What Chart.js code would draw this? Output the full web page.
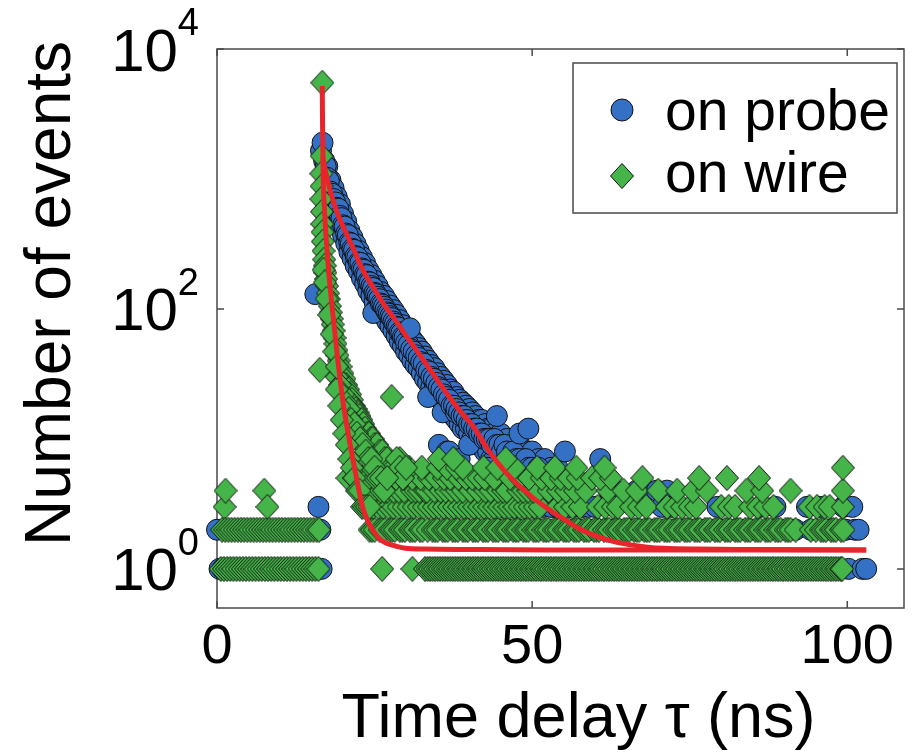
<!DOCTYPE html>
<html><head><meta charset="utf-8">
<script src="https://cdn.jsdelivr.net/npm/chart.js@4.4.1/dist/chart.umd.min.js"></script>
<style>html,body{margin:0;padding:0;background:#fff;}canvas{display:block;}</style>
</head><body>
<canvas id="c" width="917" height="752"></canvas>
<script>
// ---------- text / ticks ----------
const xTicks = [0, 50, 100];
const yTicks = [1, 100, 10000];
const yTickBase = '10';
const yTickExponents = ['0', '2', '4'];
const seriesLabels = ['on probe', 'on wire'];
const xTitle = 'Time delay \u03c4 (ns)';
const yTitle = 'Number of events';

// ---------- "on probe" (blue circles): [time ns, events] ----------
const probeBase = [[0,2],[0.4,1],[0.9,1],[1.3,2],[1.8,1],[2.3,1],[2.7,2],[3.2,1],[3.7,1],[4.1,2],[4.6,1],[5.1,1],[5.5,2],[6.0,1],[6.5,1],[6.9,2],[7.4,1],[7.9,1],[8.3,2],[8.8,1],[9.3,1],[9.7,2],[10.2,1],[10.7,1],[11.1,2],[11.6,1],[12.1,1],[12.5,2],[13.0,1],[13.5,1],[13.9,2],[14.4,1],[14.9,1],[15.3,2],[15.8,1],[15.6,130],[16.1,3],[16.4,2],[16.6,1]];
const probeDecay = [[16.5,1650],[16.75,1900],[17.0,1380],[17.25,1250],[17.5,1020],[17.75,960],[18.0,800],[18.25,770],[18.5,700],[18.75,660],[19.0,600],[19.25,590],[19.5,520],[19.75,500],[20.0,440],[20.25,430],[20.5,380],[20.75,370],[21.0,325],[21.25,320],[21.5,290],[21.75,285],[22.0,255],[22.25,250],[22.5,228],[22.75,226],[23.0,205],[23.25,200],[23.5,185],[23.75,182],[24.0,162],[24.25,160],[24.5,150],[24.75,145],[24.8,93],[25.0,133],[25.25,130],[25.5,124],[25.75,119],[26.0,110],[26.25,108],[26.5,104],[26.75,99],[27.0,94],[27.25,92],[27.5,88],[27.75,85],[28.0,80],[28.25,77],[28.5,73],[28.75,72],[29.0,66],[29.25,65],[29.5,61],[29.75,60],[30.0,55],[30.4,53],[30.6,71],[30.8,49],[31.2,47],[31.6,44],[32.0,42],[32.4,39],[32.8,38],[33.2,34],[33.5,21],[33.6,33],[34.0,30],[34.4,29],[34.8,27],[35.2,25],[35.2,9],[35.6,24],[35.8,16],[36.0,22],[36.4,21],[36.5,8],[36.8,20],[36.8,8],[37.2,18],[37.6,18],[37.9,16],[38.0,17],[38.4,16],[38.5,7],[38.8,15],[39.2,15],[39.6,14],[40.0,13],[40.0,9],[40.4,13],[40.8,12],[41.2,12],[41.6,11],[42.0,11],[42.0,5],[42.4,10],[42.8,10],[43.0,6],[43.2,10],[43.6,9],[44.0,10],[44.0,4],[44.4,15],[44.4,9],[44.8,9],[45.2,8],[45.6,9],[46.0,8],[46.5,7],[47.0,8],[47.5,7],[48.0,11],[48.0,7],[48.5,6],[49.0,7],[49.4,12],[49.5,6],[50.0,6],[50.5,5],[51.0,6],[51.5,5],[52.0,5],[52.5,4],[53.0,5],[53.5,4],[54.0,4],[55.0,4],[55.2,8],[56.0,3],[57.0,4],[58.0,3],[59.0,3],[60.0,3],[60.8,7],[62.2,4],[63.2,4]];
const probeBandUpper = [[17.5,1250],[18.0,980],[18.5,850],[19.0,730],[19.5,640],[20.0,540],[20.5,470],[21.0,400],[21.5,355],[22.0,315],[22.5,280],[23.0,250],[23.5,225],[24.0,200],[24.5,182],[25.0,165],[25.5,150],[26.0,135],[26.5,126],[27.0,115],[27.5,106],[28.0,98],[28.5,90],[29.0,82],[29.5,75],[30.0,68],[30.5,64],[31.0,58],[31.5,54],[32.0,50],[32.5,47],[33.0,43],[33.5,40],[34.0,37],[34.5,35],[35.0,32],[35.5,30],[36.0,28],[36.5,26],[37.0,24],[37.5,23],[38.0,21],[38.5,20],[39.0,19],[39.5,18],[40.0,17],[40.5,16],[41.0,15],[41.5,14],[42.0,14],[42.5,13],[43.0,12],[43.5,12],[44.0,11],[45.0,11],[46.0,10],[47.0,9],[48.0,9],[49.0,8],[50.0,8],[51.0,7],[52.0,7],[53.0,6],[54.0,6]];
const probeBandLower = [[17.5,850],[18.0,660],[18.5,570],[19.0,500],[19.5,430],[20.0,370],[20.5,320],[21.0,275],[21.5,245],[22.0,215],[22.5,195],[23.0,172],[23.5,156],[24.0,138],[24.5,126],[25.0,113],[25.5,104],[26.0,94],[26.5,88],[27.0,80],[27.5,74],[28.0,68],[28.5,62],[29.0,56],[29.5,52],[30.0,47],[30.5,44],[31.0,40],[31.5,37],[32.0,35],[32.5,32],[33.0,29],[33.5,27],[34.0,25],[34.5,24],[35.0,22],[35.5,20],[36.0,18],[36.5,17],[37.0,16],[37.5,15],[38.0,14],[38.5,13],[39.0,12],[39.5,12],[40.0,11],[40.5,10],[41.0,10],[41.5,9],[42.0,9],[42.5,8],[43.0,8],[43.5,7],[44.0,7],[45.0,6],[46.0,6],[47.0,5],[48.0,5],[49.0,5],[50.0,4],[51.0,4],[52.0,4],[53.0,3],[54.0,3]];
const probeTail = [[45.0,3],[45.5,2],[46.2,2],[46.5,4],[47.0,3],[47.8,3],[48.6,2],[49.4,4],[50.2,3],[51.0,2],[51.8,3],[52.6,2],[53.4,3],[54.2,2],[55.0,1],[55.8,2],[56.6,3],[57.4,2],[58.2,1],[59.0,2],[59.8,2],[60.6,1],[61.4,2],[62.2,1],[63.0,2],[63.8,1],[64.6,2],[65.4,1],[66.2,2],[66.6,4],[67.0,1],[67.8,2],[68.2,4],[68.6,1],[69.4,2],[69.8,4],[70.2,1],[70.6,3],[71.0,2],[71.4,4],[71.8,1],[72.2,3],[72.6,2],[73.4,1],[74.2,2],[75.0,1],[75.8,2],[76.6,1],[77.4,2],[78.2,1],[79.0,2],[79.4,3],[79.8,1],[80.6,2],[81.4,1],[82.2,2],[83.0,1],[83.8,2],[84.6,1],[85.4,2],[86.2,3],[87.0,1],[87.8,2],[88.6,3],[89.4,1],[90.2,2],[91.0,1],[91.8,2],[92.6,1],[93.6,3],[94.2,2],[95.0,1],[95.8,3],[96.6,2],[97.4,1],[97.9,2],[98.6,1],[99.4,3],[99.8,2],[100.2,1],[100.8,3],[101.2,2],[101.8,2],[102.4,1],[103.0,1]];

// ---------- "on wire" (green diamonds): [time ns, events] ----------
const wireBase = [[0.6,1],[0.8,2],[1.1,1],[1.2,3],[1.3,2],[1.35,4],[1.6,1],[1.8,2],[2.1,1],[2.3,2],[2.6,1],[2.8,2],[3.1,1],[3.3,2],[3.6,1],[3.8,2],[4.1,1],[4.3,2],[4.6,1],[4.8,2],[5.1,1],[5.3,2],[5.6,1],[5.8,2],[6.1,1],[6.3,2],[6.6,1],[6.8,2],[7.1,1],[7.3,2],[7.5,4],[7.6,1],[7.8,2],[8.0,3],[8.1,1],[8.3,2],[8.6,1],[8.8,2],[9.1,1],[9.3,2],[9.6,1],[9.8,2],[10.1,1],[10.3,2],[10.6,1],[10.8,2],[11.1,1],[11.3,2],[11.6,1],[11.8,2],[12.1,1],[12.3,2],[12.6,1],[12.8,2],[13.1,1],[13.3,2],[13.6,1],[13.8,2],[14.1,1],[14.3,2],[14.6,1],[14.8,2],[15.1,1],[15.3,2],[15.6,1],[15.8,2],[16.1,1],[16.2,2]];
const wirePeak = [[16.7,5500],[16.6,1500],[16.55,1100],[16.6,880],[16.55,700],[16.65,560],[16.7,450],[16.75,390],[16.8,330],[16.9,280],[17.0,240],[17.1,215],[17.2,190],[17.3,170],[17.45,150],[17.6,132],[17.75,119],[17.9,105],[18.05,94],[18.2,84],[18.35,76],[18.5,68],[18.65,60],[18.8,54],[18.95,48],[19.1,44],[16.3,34],[16.9,200],[17.1,160],[17.4,120],[17.8,90],[18.2,64],[18.6,47],[19.0,36]];
const wireBand = [[19.3,40],[19.6,36],[19.9,32],[20.2,29],[20.5,26],[20.8,24],[21.1,22],[21.4,20],[21.7,18],[22.0,17],[22.3,16],[22.6,15],[22.9,14],[23.2,13],[23.5,12],[23.8,11],[24.1,11],[24.4,10],[24.7,10],[25.0,9],[25.4,9],[25.8,8],[26.2,8],[26.6,7],[27.0,7],[27.5,6],[27.7,21],[28.0,6],[28.5,7],[29.0,6],[29.5,5],[30.0,6],
  [19.0,30],[19.5,26],[20.0,22],[20.4,19],[20.9,17],[21.3,14],[21.8,13],[22.2,11],[22.7,10],[23.1,9],[23.6,8],[24.0,7],[24.5,7],[25.0,6],[25.5,5],[26.0,5],[26.5,4],[27.0,5],
  [19.0,24],[19.4,18],[19.8,14],[20.2,11],[20.6,9],[21.0,7],[21.4,6],[21.8,5],[22.2,4],[22.6,4],[23.0,3],[23.4,3],[23.8,3],[24.2,3]];
const wireTailOnes = [[26.2,1],[31.0,1],[33.0,1],[33.4,1],[33.8,1],[34.2,1],[34.6,1],[35.0,1],[35.4,1],[35.8,1],[36.2,1],[36.6,1],[37.0,1],[37.4,1],[37.8,1],[38.2,1],[38.6,1],[39.0,1],[39.4,1],[39.8,1],[40.2,1],[40.6,1],[41.0,1],[41.4,1],[41.8,1],[42.2,1],[42.6,1],[43.0,1],[43.4,1],[43.8,1],[44.2,1],[44.6,1],[45.0,1],[45.4,1],[45.8,1],[46.2,1],[46.6,1],[47.0,1],[47.4,1],[47.8,1],[48.2,1],[48.6,1],[49.0,1],[49.4,1],[49.8,1],[50.2,1],[50.6,1],[51.0,1],[51.4,1],[51.8,1],[52.2,1],[52.6,1],[53.0,1],[53.4,1],[53.8,1],[54.2,1],[54.6,1],[55.0,1],[55.4,1],[55.8,1],[56.2,1],[56.6,1],[57.0,1],[57.4,1],[57.8,1],[58.2,1],[58.6,1],[59.0,1],[59.4,1],[59.8,1],[60.2,1],[60.6,1],[61.0,1],[61.4,1],[61.8,1],[62.2,1],[62.6,1],[63.0,1],[63.4,1],[63.8,1],[64.2,1],[64.6,1],[65.0,1],[65.4,1],[65.8,1],[66.2,1],[66.6,1],[67.0,1],[67.4,1],[67.8,1],[68.2,1],[68.6,1],[69.0,1],[69.4,1],[69.8,1],[70.2,1],[70.6,1],[71.0,1],[71.4,1],[71.8,1],[72.2,1],[72.6,1],[73.0,1],[73.4,1],[73.8,1],[74.2,1],[74.6,1],[75.0,1],[75.4,1],[75.8,1],[76.2,1],[76.6,1],[77.0,1],[77.4,1],[77.8,1],[78.2,1],[78.6,1],[79.0,1],[79.4,1],[79.8,1],[80.2,1],[80.6,1],[81.0,1],[81.4,1],[81.8,1],[82.2,1],[82.6,1],[83.0,1],[83.4,1],[83.8,1],[84.2,1],[84.6,1],[85.0,1],[85.4,1],[85.8,1],[86.2,1],[86.6,1],[87.0,1],[87.4,1],[87.8,1],[88.2,1],[88.6,1],[89.0,1],[89.4,1],[89.8,1],[90.2,1],[90.6,1],[91.0,1],[91.4,1],[91.8,1],[92.2,1],[92.6,1],[93.0,1],[93.4,1],[93.8,1],[94.2,1],[94.6,1],[95.0,1],[95.4,1],[95.8,1],[96.2,1],[96.6,1],[97.0,1],[97.4,1],[97.8,1],[98.2,1],[98.6,1],[99.0,1],[99.2,1]];
const wireTailTwos = [[24.2,2],[24.6,2],[25.0,2],[25.8,2],[26.2,2],[26.6,2],[27.4,2],[27.8,2],[28.2,2],[29.0,2],[29.4,2],[29.8,2],[30.6,2],[31.0,2],[31.4,2],[32.2,2],[32.6,2],[33.4,2],[34.2,2],[34.6,2],[35.0,2],[35.8,2],[36.2,2],[36.6,2],[37.4,2],[37.8,2],[38.2,2],[39.0,2],[39.4,2],[39.8,2],[40.6,2],[41.0,2],[41.4,2],[42.2,2],[42.6,2],[43.0,2],[43.8,2],[44.2,2],[44.6,2],[45.4,2],[45.8,2],[46.2,2],[47.0,2],[47.4,2],[47.8,2],[48.6,2],[49.0,2],[49.4,2],[50.2,2],[50.6,2],[51.0,2],[51.8,2],[52.2,2],[52.6,2],[53.4,2],[53.8,2],[54.2,2],[55.0,2],[55.4,2],[55.8,2],[56.6,2],[57.0,2],[57.4,2],[58.2,2],[58.6,2],[59.0,2],[59.8,2],[60.2,2],[60.6,2],[61.4,2],[61.8,2],[62.2,2],[63.0,2],[63.4,2],[63.8,2],[64.6,2],[65.0,2],[65.4,2],[66.2,2],[66.6,2],[67.0,2],[67.8,2],[68.2,2],[68.6,2],[69.4,2],[69.8,2],[70.2,2],[71.0,2],[71.4,2],[71.8,2],[72.6,2],[73.0,2],[73.4,2],[74.2,2],[74.6,2],[75.0,2],[75.8,2],[76.2,2],[76.6,2],[77.4,2],[77.8,2],[78.2,2],[79.0,2],[79.4,2],[79.8,2],[80.6,2],[81.0,2],[81.4,2],[82.2,2],[82.6,2],[83.0,2],[83.8,2],[84.2,2],[84.6,2],[85.4,2],[85.8,2],[86.2,2],[87.0,2],[87.4,2],[87.8,2],[88.6,2],[89.0,2],[89.4,2],[90.2,2],[90.6,2],[91.0,2],[91.8,2],[94.2,2],[95.0,2],[95.8,2],[96.2,2],[96.6,2],[97.4,2],[97.8,2],[98.2,2],[99.0,2],[99.4,2]];
const wireTailHigher = [[24.8,3],[25.6,3],[26.4,3],[27.2,3],[28.0,3],[28.8,3],[29.6,3],[30.4,3],[31.2,3],[32.0,3],[32.8,3],[33.6,3],[34.4,3],[35.2,3],[36.0,3],[36.8,3],[37.6,3],[38.4,3],[39.2,3],[40.0,3],[40.8,3],[41.6,3],[42.4,3],[43.2,3],[44.0,3],[44.8,3],[45.6,3],[46.4,3],[47.2,3],[48.0,3],[48.8,3],[49.6,3],[50.4,3],[51.2,3],[54.0,3],[55.2,3],[56.4,3],[57.6,3],[60.4,3],[61.6,3],[62.8,3],[63.6,3],[65.7,3],[66.9,3],[68.1,3],[71.4,3],[72.6,3],[73.8,3],[75.0,3],[76.0,3],[80.0,3],[81.2,3],[82.2,3],[84.6,3],[85.8,3],[87.0,3],[88.3,3],[94.0,3],[95.2,3],[96.4,3],[97.2,3],[99.3,3],
  [22.4,4],[23.6,4],[24.8,4],[26.0,4],[27.0,4],[28.0,4],[28.8,4],[29.7,4],[30.9,4],[31.5,4],[32.1,4],[33.0,4],[33.3,4],[34.5,4],[35.5,4],[36.3,4],[37.2,4],[38.1,4],[39.0,4],[40.2,4],[41.4,4],[42.6,4],[43.4,4],[44.6,4],[45.4,4],[46.0,4],[47.8,4],[48.6,4],[49.4,4],[50.2,4],[51.0,4],[52.6,4],[54.1,4],[55.4,4],[56.8,4],[58.5,4],[62.0,4],[64.5,4],[66.6,4],[70.0,4],[73.0,4],[75.5,4],[77.7,4],[84.0,4],[86.5,4],[91.0,4],[99.3,4],
  [20.7,5],[21.8,5],[22.5,5],[23.0,5],[24.0,5],[25.0,5],[26.0,5],[27.2,5],[28.4,5],[29.5,5],[31.0,5],[32.3,5],[33.6,5],[34.8,5],[36.0,5],[37.0,5],[38.3,5],[39.5,5],[40.5,5],[41.5,5],[42.5,5],[44.0,5],[46.5,5],[48.0,5],[49.5,5],[51.5,5],[53.0,5],[54.5,5],[55.8,5],[57.2,5],[59.5,5],[60.8,5],[62.5,5],[67.5,5],[76.5,5],[80.9,5],[86.0,5],
  [24.5,6],[27.8,6],[30.5,6],[32.5,6],[35.0,6],[36.5,6],[38.0,6],[39.0,6],[42.3,6],[44.5,6],[47.2,6],[50.8,6],[53.6,6],[57.0,6],[61.5,6],[99.3,6],
  [29.0,7],[35.2,7],[37.5,7],[45.8,7]];

// ---------- red fit curves ----------
const fitProbe = [[16.75,1500],[17.2,1150],[18.0,800],[18.9,580],[20.0,430],[21.5,300],[23.0,205],[24.7,148],[26.5,108],[28.3,82],[30.0,62],[32.0,45.6],[34.0,33],[36.0,24],[38.5,16.5],[40.8,12.2],[42.5,9],[44.6,6.5],[47.0,4.8],[49.9,3.6],[52.5,2.9],[55.2,2.38],[57.8,2.0],[60.4,1.77],[63.0,1.62],[65.7,1.53],[68.3,1.47],[70.9,1.44],[76.0,1.42],[85.0,1.41],[103.0,1.40]];
const fitWire = [[16.7,5200],[16.75,2500],[16.85,1000],[17.0,650],[17.3,360],[17.8,177],[18.2,110],[18.6,73],[19.1,43],[19.6,27],[20.2,16.5],[21.0,9.8],[22.0,5.4],[23.1,3.0],[24.0,2.3],[24.7,2.0],[25.7,1.72],[26.8,1.58],[28.3,1.5],[29.9,1.44],[33.0,1.42],[40.0,1.41],[52.5,1.40],[103.0,1.40]];

// ---------- styling ----------
const FONT = "'Liberation Sans', Arial, Helvetica, sans-serif";
const BLUE = '#3470c4', GREEN = '#45b549', RED = '#e8252b', EDGE = '#111';
const toXY = arr => arr.map(p => ({x: p[0], y: p[1]}));

function makeDiamond(w, h, fill, stroke) {
  const c = document.createElement('canvas');
  c.width = w; c.height = h;
  const g = c.getContext('2d');
  g.beginPath();
  g.moveTo(w / 2, 0.5); g.lineTo(w - 0.5, h / 2); g.lineTo(w / 2, h - 0.5); g.lineTo(0.5, h / 2);
  g.closePath();
  g.fillStyle = fill; g.fill();
  g.lineWidth = 1; g.strokeStyle = stroke; g.stroke();
  return c;
}
const diamond = makeDiamond(24, 26, GREEN, EDGE);

const decor = {
  id: 'decor',
  beforeDatasetsDraw(chart) {
    const {ctx, chartArea: a, scales: {x: xs, y: ys}} = chart;
    ctx.save();
    ctx.strokeStyle = '#4a4a4a'; ctx.lineWidth = 1.5;
    ctx.strokeRect(a.left, a.top, a.right - a.left, a.bottom - a.top);
    ctx.beginPath();
    xTicks.forEach(v => { const p = xs.getPixelForValue(v); ctx.moveTo(p, a.bottom); ctx.lineTo(p, a.bottom - 7); ctx.moveTo(p, a.top); ctx.lineTo(p, a.top + 7); });
    yTicks.forEach(v => { const p = ys.getPixelForValue(v); ctx.moveTo(a.left, p); ctx.lineTo(a.left + 7, p); ctx.moveTo(a.right, p); ctx.lineTo(a.right - 7, p); });
    ctx.stroke();
    ctx.restore();
  },
  afterDraw(chart) {
    const {ctx, chartArea: a, scales: {y: ys}} = chart;
    ctx.save();
    ctx.fillStyle = '#000';
    ctx.textBaseline = 'alphabetic';
    ctx.textAlign = 'left';
    yTicks.forEach((v, i) => {
      const p = ys.getPixelForValue(v);
      ctx.font = '60px ' + FONT; const wb = ctx.measureText(yTickBase).width;
      ctx.font = '38px ' + FONT; const we = ctx.measureText(yTickExponents[i]).width;
      const xe = a.left - 18 - we, xb = xe - wb;
      ctx.font = '60px ' + FONT; ctx.fillText(yTickBase, xb, p + 21.5);
      ctx.font = '38px ' + FONT; ctx.fillText(yTickExponents[i], xe, p - 14);
    });
    ctx.font = '63px ' + FONT;
    ctx.textAlign = 'center';
    ctx.fillText(xTitle, (a.left + a.right) / 2 + 18, a.bottom + 129);
    ctx.save();
    ctx.translate(70, (a.top + a.bottom) / 2 - 35);
    ctx.rotate(-Math.PI / 2);
    ctx.font = '64px ' + FONT;
    ctx.fillText(yTitle, 0, 0);
    ctx.restore();
    const L = {x: 573, y: 63, w: 324, h: 150};
    ctx.fillStyle = '#fff'; ctx.fillRect(L.x, L.y, L.w, L.h);
    ctx.strokeStyle = '#4a4a4a'; ctx.lineWidth = 1.5; ctx.strokeRect(L.x, L.y, L.w, L.h);
    const mx = L.x + 49;
    ctx.beginPath(); ctx.arc(mx, L.y + 47, 11, 0, Math.PI * 2);
    ctx.fillStyle = BLUE; ctx.fill(); ctx.lineWidth = 1; ctx.strokeStyle = EDGE; ctx.stroke();
    ctx.drawImage(diamond, mx - diamond.width / 2, L.y + 113 - diamond.height / 2);
    ctx.fillStyle = '#000'; ctx.textAlign = 'left';
    ctx.font = '57px ' + FONT;
    ctx.fillText(seriesLabels[0], L.x + 92, L.y + 67);
    ctx.fillText(seriesLabels[1], L.x + 92, L.y + 129);
    ctx.restore();
  }
};

new Chart(document.getElementById('c'), {
  type: 'scatter',
  data: {
    datasets: [
      {type: 'line', label: 'fit wire', data: toXY(fitWire), borderColor: RED, borderWidth: 5, pointRadius: 0, fill: false, cubicInterpolationMode: 'monotone', order: 0},
      {type: 'line', label: 'fit probe', data: toXY(fitProbe), borderColor: RED, borderWidth: 5, pointRadius: 0, fill: false, cubicInterpolationMode: 'monotone', order: 1},
      {label: seriesLabels[1], data: toXY([...wireBase, ...wireTailOnes, ...wireTailTwos, ...wireTailHigher, ...wireBand, ...wirePeak]), pointStyle: diamond, pointRadius: 12, backgroundColor: GREEN, borderColor: EDGE, borderWidth: 1, clip: false, order: 2},
      {label: seriesLabels[0], data: toXY([...probeBase, ...probeTail, ...probeBandLower, ...probeBandUpper, ...probeDecay]), pointStyle: 'circle', pointRadius: 10.5, backgroundColor: BLUE, borderColor: EDGE, borderWidth: 1, clip: false, order: 3}
    ]
  },
  options: {
    responsive: false, animation: false, devicePixelRatio: 1, events: [],
    layout: {padding: {top: 49, right: 11, left: 0, bottom: 0}},
    plugins: {legend: {display: false}, tooltip: {enabled: false}},
    scales: {
      x: {
        type: 'linear', min: 0, max: 109,
        grid: {display: false, drawTicks: false}, border: {display: false},
        afterBuildTicks: s => { s.ticks = xTicks.map(v => ({value: v})); },
        afterFit: s => { s.height = 144; },
        ticks: {font: {family: FONT, size: 56}, color: '#000', padding: 6, maxRotation: 0, autoSkip: false}
      },
      y: {
        type: 'logarithmic', min: 0.5, max: 10000,
        grid: {display: false, drawTicks: false}, border: {display: false},
        afterBuildTicks: s => { s.ticks = yTicks.map(v => ({value: v})); },
        afterFit: s => { s.width = 217; },
        ticks: {display: false}
      }
    }
  },
  plugins: [decor]
});
</script>
</body></html>
